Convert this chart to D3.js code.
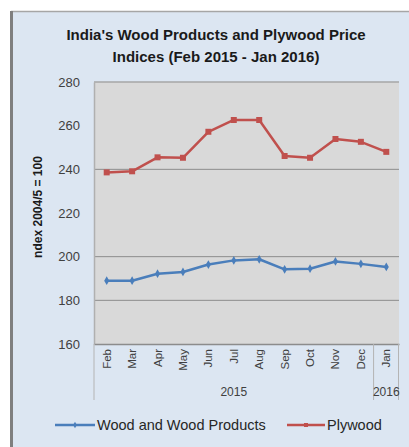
<!DOCTYPE html>
<html>
<head>
<meta charset="utf-8">
<script src="https://cdn.jsdelivr.net/npm/d3@7/dist/d3.min.js"></script>
<style>
  html, body { margin: 0; padding: 0; background: #ffffff; }
  svg { display: block; }
  text { font-family: "Liberation Sans", Arial, sans-serif; }
</style>
</head>
<body>
<div id="chart"></div>
<script>
// Monthly price indices, Feb 2015 – Jan 2016 (base 2004/5 = 100)
const months = ["Feb", "Mar", "Apr", "May", "Jun", "Jul", "Aug", "Sep", "Oct", "Nov", "Dec", "Jan"];
const years = [
  { label: "2015", from: 0, to: 11 },
  { label: "2016", from: 11, to: 12 }
];
const woodProducts = [189.0, 189.0, 192.2, 193.0, 196.4, 198.3, 198.8, 194.2, 194.5, 197.8, 196.7, 195.3];
const plywood = [238.6, 239.1, 245.5, 245.3, 257.2, 262.6, 262.6, 246.1, 245.3, 253.9, 252.6, 248.0];
const yTicks = [160, 180, 200, 220, 240, 260, 280];
const gridValues = [180, 200, 240];
const seriesNames = ["Wood and Wood Products", "Plywood"];
const titleLines = ["India's Wood Products and Plywood Price", "Indices (Feb 2015 - Jan 2016)"];
const yTitle = "ndex 2004/5 = 100";

const W = 409, H = 447;
const plot = { left: 94, right: 399, top: 82, bottom: 344 };
const blue = "#4a7ebb", red = "#c0504d";

const svg = d3.select("#chart").append("svg").attr("width", W).attr("height", H);

// chart area background and frame
svg.append("rect").attr("x", 11).attr("y", 11).attr("width", W - 11).attr("height", H - 11)
  .attr("fill", "#dce6f2");
svg.append("line").attr("x1", 11).attr("x2", W).attr("y1", 11.5).attr("y2", 11.5)
  .attr("stroke", "#a6a6a6").attr("stroke-width", 1.5);
svg.append("line").attr("x1", 11.5).attr("x2", 11.5).attr("y1", 11).attr("y2", H)
  .attr("stroke", "#7f7f7f").attr("stroke-width", 3);

// title
svg.append("g").selectAll("text").data(titleLines).join("text")
  .attr("x", 216).attr("y", (d, i) => 40 + i * 22)
  .attr("text-anchor", "middle")
  .attr("font-size", 15).attr("font-weight", "bold").attr("fill", "#1a1a1a")
  .text(d => d);

// scales
const x = d3.scaleBand().domain(months.map((m, i) => i)).range([plot.left, plot.right]);
const y = d3.scaleLinear().domain([160, 280]).range([plot.bottom, plot.top]);

// plot area
svg.append("rect").attr("x", plot.left).attr("y", plot.top)
  .attr("width", plot.right - plot.left).attr("height", plot.bottom - plot.top)
  .attr("fill", "#d9d9d9");

// gridlines
svg.append("g").selectAll("line").data(gridValues).join("line")
  .attr("x1", plot.left).attr("x2", plot.right)
  .attr("y1", d => y(d)).attr("y2", d => y(d))
  .attr("stroke", "#8c8c8c").attr("stroke-width", 1);
svg.append("line").attr("x1", plot.left).attr("x2", plot.right)
  .attr("y1", plot.top).attr("y2", plot.top)
  .attr("stroke", "#a6a6a6").attr("stroke-width", 1.5);

// y axis
const yAxis = svg.append("g").attr("transform", `translate(${plot.left},0)`)
  .call(d3.axisLeft(y).tickValues(yTicks).tickSize(0).tickPadding(14).tickFormat(d3.format("d")));
yAxis.select(".domain").attr("stroke", "#b0b0b0").attr("stroke-width", 1.5);
yAxis.selectAll("text").attr("font-size", 13).attr("fill", "#404040")
  .attr("font-family", "Liberation Sans, Arial, sans-serif");

svg.append("text")
  .attr("transform", "translate(42,207) rotate(-90)")
  .attr("text-anchor", "middle")
  .attr("font-size", 12).attr("font-weight", "bold").attr("fill", "#1a1a1a")
  .text(yTitle);

// x axis: months
const xAxis = svg.append("g").attr("transform", `translate(0,${plot.bottom})`)
  .call(d3.axisBottom(x).tickSize(0).tickFormat(i => months[i]));
xAxis.select(".domain").attr("stroke", "#8c8c8c").attr("stroke-width", 1.5);
xAxis.selectAll("text")
  .attr("font-size", 11.5).attr("fill", "#404040")
  .attr("font-family", "Liberation Sans, Arial, sans-serif")
  .attr("text-anchor", "end")
  .attr("dy", "0.35em")
  .attr("transform", "translate(0,-2) rotate(-90)")
  .attr("x", -7).attr("y", 0);

// year group separators and labels
const bounds = [0, 11, 12];
svg.append("g").selectAll("line").data(bounds).join("line")
  .attr("x1", d => d === 12 ? plot.right - 0.5 : x(d))
  .attr("x2", d => d === 12 ? plot.right - 0.5 : x(d))
  .attr("y1", plot.bottom).attr("y2", 400)
  .attr("stroke", "#b4b4b4").attr("stroke-width", 1);
svg.append("g").selectAll("text").data(years).join("text")
  .attr("x", d => (x(d.from) + (d.to === 12 ? plot.right : x(d.to))) / 2)
  .attr("y", 395.5)
  .attr("text-anchor", "middle")
  .attr("font-size", 12).attr("fill", "#404040")
  .text(d => d.label);

// series
const line = d3.line().x((d, i) => x(i) + x.bandwidth() / 2).y(d => y(d));

function drawSeries(values, color, shape) {
  const g = svg.append("g");
  g.append("path").datum(values).attr("d", line)
    .attr("fill", "none").attr("stroke", color).attr("stroke-width", 2.5)
    .attr("stroke-linejoin", "round");
  g.selectAll("path.m").data(values).join("path").attr("class", "m")
    .attr("transform", (d, i) => `translate(${x(i) + x.bandwidth() / 2},${y(d)})`)
    .attr("d", d3.symbol().type(shape).size(shape === d3.symbolSquare ? 36 : 22))
    .attr("fill", color);
}
drawSeries(woodProducts, blue, d3.symbolDiamond);
drawSeries(plywood, red, d3.symbolSquare);

// legend
const legend = [
  { name: seriesNames[0], color: blue, shape: d3.symbolDiamond, x0: 55, x1: 95, tx: 97 },
  { name: seriesNames[1], color: red, shape: d3.symbolSquare, x0: 287, x1: 325, tx: 327 }
];
const lg = svg.append("g").selectAll("g").data(legend).join("g");
lg.append("line").attr("x1", d => d.x0).attr("x2", d => d.x1).attr("y1", 425).attr("y2", 425)
  .attr("stroke", d => d.color).attr("stroke-width", 2.5);
lg.append("path")
  .attr("transform", d => `translate(${(d.x0 + d.x1) / 2},425)`)
  .attr("d", d => d3.symbol().type(d.shape).size(d.shape === d3.symbolSquare ? 16 : 12)())
  .attr("fill", d => d.color);
lg.append("text").attr("x", d => d.tx).attr("y", 430)
  .attr("font-size", 14.5).attr("fill", "#262626")
  .text(d => d.name);
</script>
</body>
</html>
